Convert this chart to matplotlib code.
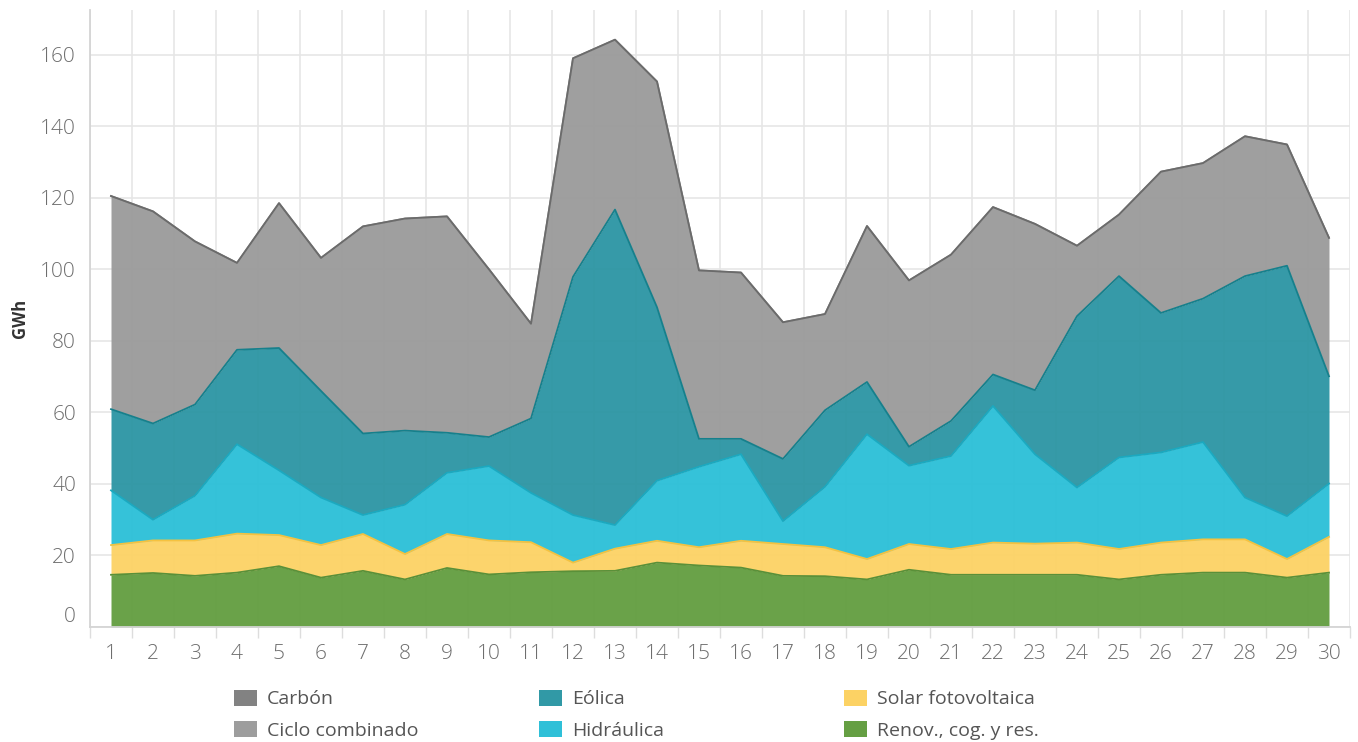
import numpy as np
import matplotlib
matplotlib.use("Agg")
import matplotlib.pyplot as plt
from matplotlib.patches import Patch

plt.rcParams['font.family'] = ['Open Sans', 'DejaVu Sans']

# daily generation in GWh
days = list(range(1, 31))
renov = [14.6, 15.1, 14.3, 15.2, 17.0, 13.8, 15.7, 13.3, 16.5, 14.7,
         15.3, 15.6, 15.7, 18.0, 17.2, 16.6, 14.3, 14.2, 13.3, 16.0,
         14.6, 14.6, 14.6, 14.6, 13.3, 14.6, 15.2, 15.2, 13.8, 15.2]
solar = [8.3, 9.1, 9.9, 10.9, 8.7, 9.1, 10.3, 7.1, 9.5, 9.5,
         8.4, 2.4, 6.2, 6.1, 5.1, 7.5, 8.9, 8.1, 5.7, 7.2,
         7.2, 9.0, 8.7, 9.0, 8.5, 9.0, 9.3, 9.3, 5.2, 10.0]
hidraulica = [15.3, 5.8, 12.5, 25.0, 18.1, 13.3, 5.3, 13.8, 17.1, 20.8,
              13.8, 13.3, 6.6, 16.8, 22.5, 24.2, 6.4, 16.9, 34.9, 21.9,
              26.0, 38.2, 25.0, 15.4, 25.6, 25.2, 27.2, 11.7, 12.0, 14.9]
eolica = [22.7, 26.9, 25.5, 26.4, 34.2, 29.8, 22.8, 20.7, 11.2, 8.1,
          20.8, 66.6, 88.2, 48.5, 7.8, 4.3, 17.4, 21.4, 14.6, 5.3,
          9.8, 8.8, 17.9, 47.9, 50.7, 39.0, 40.1, 61.9, 70.0, 30.0]
ciclo = [59.6, 59.3, 45.6, 24.3, 40.5, 37.2, 57.9, 59.3, 60.5, 46.9,
         26.5, 61.1, 47.5, 63.1, 47.1, 46.5, 38.2, 26.9, 43.6, 46.5,
         46.5, 46.8, 46.5, 19.7, 17.2, 39.5, 37.9, 39.1, 33.9, 38.7]
carbon = [0.0] * 30

# bottom to top
series = [
    ("Renov., cog. y res.", renov, "#629d3f", "#5a9039"),
    ("Solar fotovoltaica", solar, "#fcd264", "#f5c240"),
    ("Hidráulica", hidraulica, "#2abfd7", "#1ba9c0"),
    ("Eólica", eolica, "#2b95a3", "#16808c"),
    ("Ciclo combinado", ciclo, "#9a9a9a", "#888888"),
    ("Carbón", carbon, "#828282", "#6b6b6b"),
]

fig = plt.figure(figsize=(13.58, 7.42), dpi=100)
ax = fig.add_axes([90 / 1358, 1 - 627 / 742, 1260 / 1358, 617 / 742])

x = np.array(days)
base = np.zeros(len(days))
for name, vals, fill, edge in series:
    top = base + np.array(vals)
    ax.fill_between(x, base, top, color=fill, alpha=0.95, linewidth=0, zorder=2)
    ax.plot(x, top, color=edge, linewidth=1.3, zorder=3)
    base = top

ax.set_xlim(0.5, 30.5)
ax.set_ylim(0, 172.5)
ax.set_yticks(range(0, 161, 20))
ax.set_xticks(days)
ax.set_xticks(np.arange(0.5, 31, 1), minor=True)
ax.grid(True, which='major', axis='y', color='#e6e6e6', linewidth=1.2, zorder=0)
ax.grid(True, which='minor', axis='x', color='#e6e6e6', linewidth=1.2, zorder=0)
ax.tick_params(axis='both', which='major', length=0, labelsize=15, labelcolor='#6e6e6e')
ax.tick_params(axis='y', which='major', pad=10)
ax.tick_params(axis='x', which='major', pad=12)
ax.tick_params(axis='x', which='minor', length=8, color='#dddddd', width=1)
ax.tick_params(axis='y', which='minor', length=0)
for lab in ax.get_xticklabels() + ax.get_yticklabels():
    lab.set_fontweight('light')
for lab in ax.get_yticklabels():
    if lab.get_text() == '0':
        lab.set_va('bottom')

for s in ['top', 'right']:
    ax.spines[s].set_visible(False)
for s in ['left', 'bottom']:
    ax.spines[s].set_color('#d4d4d4')
    ax.spines[s].set_linewidth(1.3)

ax.set_ylabel("GWh", fontsize=12, color='#333333', fontweight='bold', labelpad=8)

# legend in three columns
order = ["Carbón", "Ciclo combinado", "Eólica", "Hidráulica", "Solar fotovoltaica", "Renov., cog. y res."]
colors = {"Carbón": "#828282", "Ciclo combinado": "#9d9d9d", "Eólica": "#3199a6",
          "Hidráulica": "#2fc0d8", "Solar fotovoltaica": "#fcd264", "Renov., cog. y res.": "#659f43"}
col_x = [234 / 1358, 539 / 1358, 844 / 1358]
for i, cx in enumerate(col_x):
    names = order[2 * i:2 * i + 2]
    handles = [Patch(facecolor=colors[n], edgecolor='none') for n in names]
    leg = fig.legend(handles, names, loc='upper left', bbox_to_anchor=(cx, 1 - 690 / 742),
                     frameon=False, fontsize=14, handlelength=1.19, handleheight=0.85,
                     handletextpad=0.5, labelspacing=0.66, borderaxespad=0, borderpad=0)
    for t in leg.get_texts():
        t.set_color('#555555')

fig.savefig("out.png", dpi=100)
